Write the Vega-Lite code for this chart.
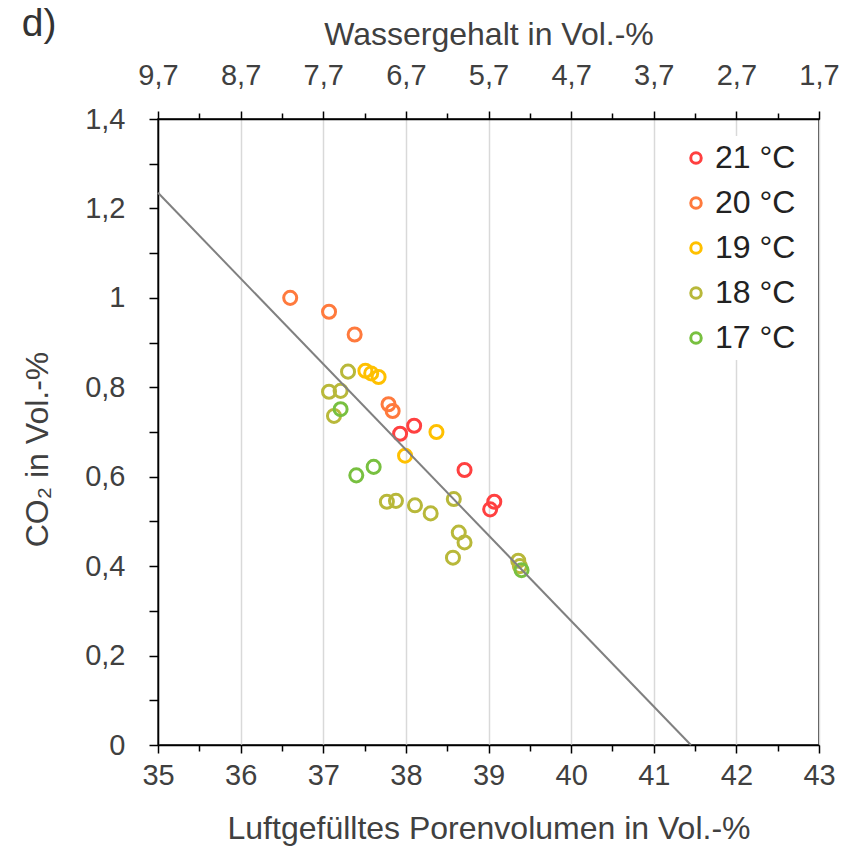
{
  "$schema": "https://vega.github.io/schema/vega-lite/v6.json",
  "width": 661,
  "height": 626,
  "padding": {"left": 21, "top": 5, "right": 30, "bottom": 5},
  "background": "white",
  "title": {"text": "d)", "anchor": "start", "frame": "bounds", "fontSize": 39, "font": "Liberation Sans", "fontWeight": "normal", "color": "#333333", "offset": -26},
  "config": {
    "view": {"stroke": "#000000", "strokeWidth": 1.5},
    "font": "Liberation Sans",
    "axis": {
      "labelFont": "Liberation Sans",
      "titleFont": "Liberation Sans",
      "labelFontSize": 29,
      "titleFontSize": 32,
      "titleFontWeight": "normal",
      "labelColor": "#404040",
      "titleColor": "#404040",
      "domainColor": "#000000",
      "domainWidth": 1.5,
      "tickColor": "#000000",
      "tickWidth": 1.5,
      "labelFlush": false,
      "labelOverlap": false
    }
  },
  "data": {
    "values": [
      {"x": 38.10, "y": 0.714, "T": "21 °C"},
      {"x": 37.93, "y": 0.696, "T": "21 °C"},
      {"x": 38.71, "y": 0.615, "T": "21 °C"},
      {"x": 39.07, "y": 0.544, "T": "21 °C"},
      {"x": 39.02, "y": 0.527, "T": "21 °C"},
      {"x": 36.60, "y": 1.000, "T": "20 °C"},
      {"x": 37.07, "y": 0.969, "T": "20 °C"},
      {"x": 37.38, "y": 0.918, "T": "20 °C"},
      {"x": 37.79, "y": 0.762, "T": "20 °C"},
      {"x": 37.84, "y": 0.747, "T": "20 °C"},
      {"x": 37.51, "y": 0.837, "T": "19 °C"},
      {"x": 37.58, "y": 0.831, "T": "19 °C"},
      {"x": 37.67, "y": 0.823, "T": "19 °C"},
      {"x": 38.37, "y": 0.700, "T": "19 °C"},
      {"x": 37.99, "y": 0.647, "T": "19 °C"},
      {"x": 37.30, "y": 0.835, "T": "18 °C"},
      {"x": 37.07, "y": 0.790, "T": "18 °C"},
      {"x": 37.21, "y": 0.792, "T": "18 °C"},
      {"x": 37.13, "y": 0.736, "T": "18 °C"},
      {"x": 37.77, "y": 0.544, "T": "18 °C"},
      {"x": 37.88, "y": 0.546, "T": "18 °C"},
      {"x": 38.11, "y": 0.536, "T": "18 °C"},
      {"x": 38.30, "y": 0.518, "T": "18 °C"},
      {"x": 38.58, "y": 0.550, "T": "18 °C"},
      {"x": 38.64, "y": 0.475, "T": "18 °C"},
      {"x": 38.71, "y": 0.453, "T": "18 °C"},
      {"x": 38.57, "y": 0.419, "T": "18 °C"},
      {"x": 39.36, "y": 0.412, "T": "18 °C"},
      {"x": 39.38, "y": 0.400, "T": "18 °C"},
      {"x": 37.21, "y": 0.751, "T": "17 °C"},
      {"x": 37.61, "y": 0.622, "T": "17 °C"},
      {"x": 37.40, "y": 0.603, "T": "17 °C"},
      {"x": 39.40, "y": 0.391, "T": "17 °C"}
    ]
  },
  "layer": [
    {
      "mark": {"type": "point", "filled": false, "strokeWidth": 3, "size": 170, "opacity": 1},
      "encoding": {
        "x": {
          "field": "x", "type": "quantitative",
          "scale": {"domain": [35, 43], "nice": false, "zero": false},
          "axis": {
            "orient": "bottom",
            "values": [35, 35.5, 36, 36.5, 37, 37.5, 38, 38.5, 39, 39.5, 40, 40.5, 41, 41.5, 42, 42.5, 43],
            "labelExpr": "datum.value % 1 === 0 ? format(datum.value, 'd') : ''",
            "title": "Luftgefülltes Porenvolumen in Vol.-%",
            "grid": true,
            "gridColor": {"condition": {"test": "datum.value % 1 !== 0", "value": "transparent"}, "value": "#d9d9d9"},
            "gridWidth": 1.5,
            "tickSize": {"condition": {"test": "datum.value % 1 === 0", "value": 8}, "value": 6},
            "labelPadding": 8,
            "titlePadding": 23
          }
        },
        "y": {
          "field": "y", "type": "quantitative",
          "scale": {"domain": [0, 1.4], "nice": false},
          "axis": {
            "values": [0, 0.1, 0.2, 0.3, 0.4, 0.5, 0.6, 0.7, 0.8, 0.9, 1, 1.1, 1.2, 1.3, 1.4],
            "labelExpr": "round(datum.value*10) % 2 === 0 ? replace(format(datum.value, '.1~f'), '.', ',') : ''",
            "title": "CO₂  in Vol.-%",
            "titleY": 330,
            "grid": false,
            "tickSize": 9,
            "labelPadding": 24,
            "titlePadding": 30
          }
        },
        "color": {
          "field": "T", "type": "nominal",
          "scale": {"domain": ["21 °C", "20 °C", "19 °C", "18 °C", "17 °C"], "range": ["#ff4040", "#ff7a3d", "#ffc000", "#b8b83a", "#78c040"]},
          "legend": {
            "orient": "top-right", "title": null,
            "offset": 17,
            "fillColor": "white",
            "padding": 6,
            "symbolType": "circle",
            "symbolSize": 110,
            "symbolStrokeWidth": 3,
            "labelFontSize": 32,
            "labelFont": "Liberation Sans",
            "labelColor": "#222222",
            "rowPadding": 13,
            "labelOffset": 3
          }
        }
      }
    },
    {
      "data": {"values": [{"x": 35, "y": 1.235}, {"x": 41.45, "y": 0}]},
      "mark": {"type": "line", "color": "#808080", "strokeWidth": 2},
      "encoding": {
        "x": {
          "field": "x", "type": "quantitative",
          "axis": {
            "orient": "top",
            "values": [35, 35.5, 36, 36.5, 37, 37.5, 38, 38.5, 39, 39.5, 40, 40.5, 41, 41.5, 42, 42.5, 43],
            "labelExpr": "datum.value % 1 === 0 ? replace(format(44.7 - datum.value, '.1f'), '.', ',') : ''",
            "title": "Wassergehalt in Vol.-%",
            "grid": false,
            "tickSize": {"condition": {"test": "datum.value % 1 === 0", "value": 8}, "value": 6},
            "labelPadding": 21,
            "titlePadding": 10
          }
        },
        "y": {"field": "y", "type": "quantitative"}
      }
    }
  ],
  "resolve": {"axis": {"x": "independent"}}
}
